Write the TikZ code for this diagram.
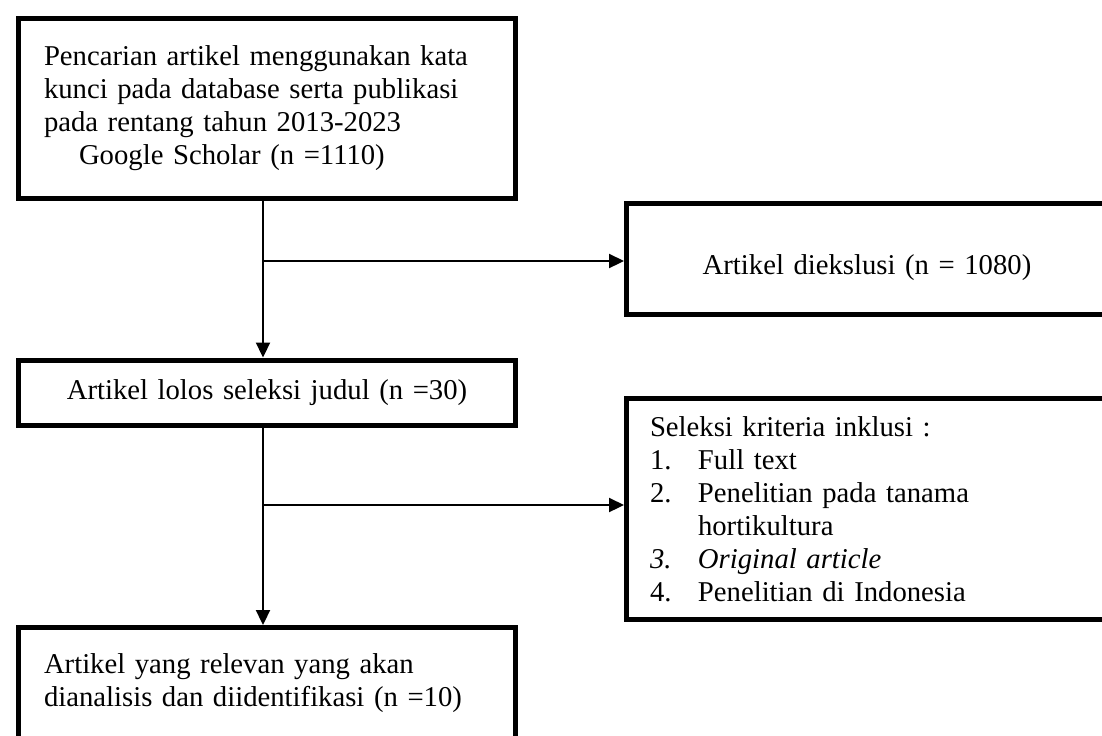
\documentclass[tikz,border=0pt]{standalone}
\usepackage{fontspec}
\setmainfont{Liberation Serif}
\usepackage{tikz}
\usetikzlibrary{arrows.meta,positioning}
\newcommand{\critem}[2]{\makebox[24pt][l]{#1}#2}
\tikzset{
  flowbox/.style={
    draw,
    line width=2.5pt,
    anchor=north west,
    align=left,
    inner xsep=12.75pt,
    inner ysep=2pt,
    font=\fontsize{14.35}{16.5}\selectfont
  },
  centerbox/.style={
    flowbox,
    align=center
  },
  flow/.style={-{Triangle[length=7.5pt,width=7pt]}, line width=1.1pt}
}

\begin{document}
\begin{tikzpicture}[x=0.5pt,y=-0.5pt]
  \useasboundingbox (0,0) rectangle (1102,735);
  \clip (0,0) rectangle (1102,735);
  \node[flowbox, text width=223pt, minimum height=90pt] (search) at (16,15.5)
    {Pencarian artikel menggunakan kata\\kunci pada database serta publikasi\\pada rentang tahun 2013-2023\\\hspace*{17.5pt}Google Scholar (n =1110)};
  \node[centerbox, text width=215pt, text height=18.5pt, minimum height=55.25pt] (excl) at (624,201)
    {Artikel diekslusi (n = 1080)};
  \node[centerbox, text width=223pt, minimum height=32.5pt] (title) at (16,357.5)
    {Artikel lolos seleksi judul (n =30)};
  \node[flowbox, inner xsep=11.75pt, text width=217pt, minimum height=110.5pt] (incl) at (624,396)
    {Seleksi kriteria inklusi :\\
     \critem{1.}{Full text}\\
     \critem{2.}{Penelitian pada tanama}\\
     \critem{}{hortikultura}\\
     \critem{\textit{3.}}{\textit{Original article}}\\
     \critem{4.}{Penelitian di Indonesia}};
  \node[flowbox, text width=223pt, minimum height=56pt] (final) at (16,625)
    {Artikel yang relevan yang akan\\dianalisis dan diidentifikasi (n =10)};

  \coordinate (split1) at (263,261);
  \coordinate (split2) at (263,505);
  \draw[flow] (search.south -| split1) -- (title.north -| split1);
  \draw[flow] (split1) -- (split1 -| excl.west);
  \draw[flow] (title.south -| split2) -- (final.north -| split2);
  \draw[flow] (split2) -- (split2 -| incl.west);
\end{tikzpicture}
\end{document}
